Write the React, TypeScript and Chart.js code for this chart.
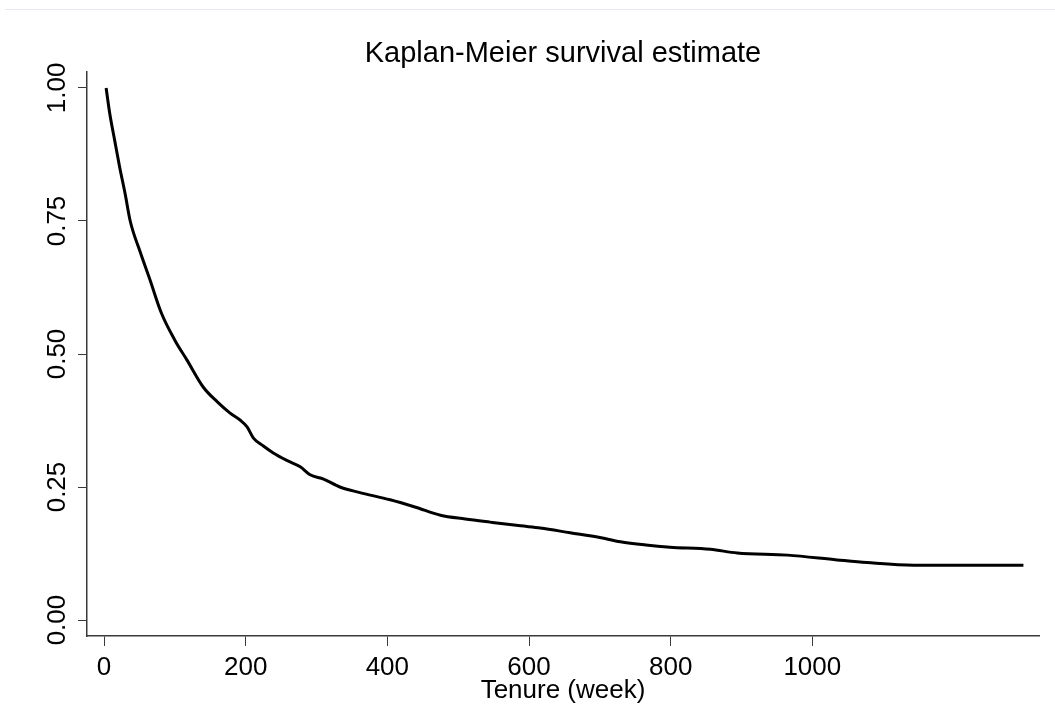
import React, { useEffect, useRef } from "react";
import { Chart, registerables } from "chart.js";

Chart.register(...registerables);

const tenureWeeks = [3, 8, 15, 22, 30, 37, 51, 65, 81, 100, 117, 140, 160, 178, 192, 202, 211, 225, 239, 258, 277, 291, 310, 333, 360, 404, 440, 475, 510, 545, 588, 616, 658, 700, 729, 765, 799, 856, 894, 965, 1035, 1077, 1143, 1200, 1298];
const survival = [1.0, 0.953, 0.902, 0.852, 0.8, 0.75, 0.692, 0.639, 0.577, 0.526, 0.489, 0.438, 0.41, 0.389, 0.376, 0.363, 0.342, 0.327, 0.314, 0.3, 0.288, 0.273, 0.265, 0.25, 0.24, 0.226, 0.212, 0.197, 0.19, 0.184, 0.177, 0.173, 0.164, 0.155, 0.147, 0.141, 0.137, 0.133, 0.126, 0.122, 0.113, 0.108, 0.103, 0.103, 0.103];
const xTicks = [0, 200, 400, 600, 800, 1000];
const yTicks = [0, 0.25, 0.5, 0.75, 1.0];
const chartTitle = "Kaplan-Meier survival estimate";
const xTitle = "Tenure (week)";

const FONT = "'Liberation Sans', Arial, Helvetica, sans-serif";
const AXIS = "#3a3a3a";

export default function App() {
  const ref = useRef<HTMLCanvasElement>(null);
  useEffect(() => {
    if (!ref.current) return;
    const chart = new Chart(ref.current, {
      type: "line",
      data: {
        datasets: [
          {
            data: tenureWeeks.map((t, i) => ({ x: t, y: survival[i] })),
            borderColor: "#000",
            borderWidth: 3,
            pointRadius: 0,
            cubicInterpolationMode: "monotone",
            fill: false,
          },
        ],
      },
      options: {
        animation: false,
        responsive: false,
        layout: { padding: { left: 0, right: 16, top: 0, bottom: 0 } },
        plugins: {
          legend: { display: false },
          tooltip: { enabled: false },
          title: {
            display: true,
            text: chartTitle,
            fullSize: false,
            color: "#000",
            font: { family: FONT, size: 29, weight: "normal", lineHeight: 1.2 },
            padding: { top: 36.6, bottom: 0.6 },
          },
        },
        scales: {
          x: {
            type: "linear",
            min: -24,
            max: 1320,
            afterBuildTicks: (s: any) => {
              s.ticks = xTicks.map((v) => ({ value: v }));
            },
            afterFit: (s: any) => {
              s.height = 91;
            },
            grid: { drawOnChartArea: false, drawTicks: true, tickLength: 10, color: AXIS, lineWidth: 1 },
            border: { display: true, color: AXIS, width: 1.5 },
            ticks: {
              color: "#000",
              padding: 6,
              maxRotation: 0,
              autoSkip: false,
              font: { family: FONT, size: 26 },
              callback: (v: any) => String(v),
            },
            title: {
              display: true,
              text: xTitle,
              color: "#000",
              font: { family: FONT, size: 26 },
              padding: { top: 0, bottom: 21 },
            },
          },
          y: {
            type: "linear",
            min: -0.03,
            max: 1.03,
            afterBuildTicks: (s: any) => {
              s.ticks = yTicks.map((v) => ({ value: v }));
            },
            afterFit: (s: any) => {
              s.width = 87;
            },
            grid: { drawOnChartArea: false, drawTicks: true, tickLength: 9, color: AXIS, lineWidth: 1 },
            border: { display: true, color: AXIS, width: 1.5 },
            ticks: {
              color: "#000",
              minRotation: 90,
              maxRotation: 90,
              crossAlign: "center",
              padding: -5,
              autoSkip: false,
              font: { family: FONT, size: 26 },
              callback: (v: any) => Number(v).toFixed(2),
            },
          },
        },
      },
    });
    return () => chart.destroy();
  }, []);

  return (
    <div style={{ position: "absolute", left: 0, top: 0, width: 1055, height: 727, background: "#fff" }}>
      <div style={{ position: "absolute", left: 5, top: 9, width: 1050, height: 1, background: "#e6eaee" }} />
      <canvas ref={ref} width={1055} height={727} style={{ position: "absolute", left: 0, top: 0 }} />
    </div>
  );
}
